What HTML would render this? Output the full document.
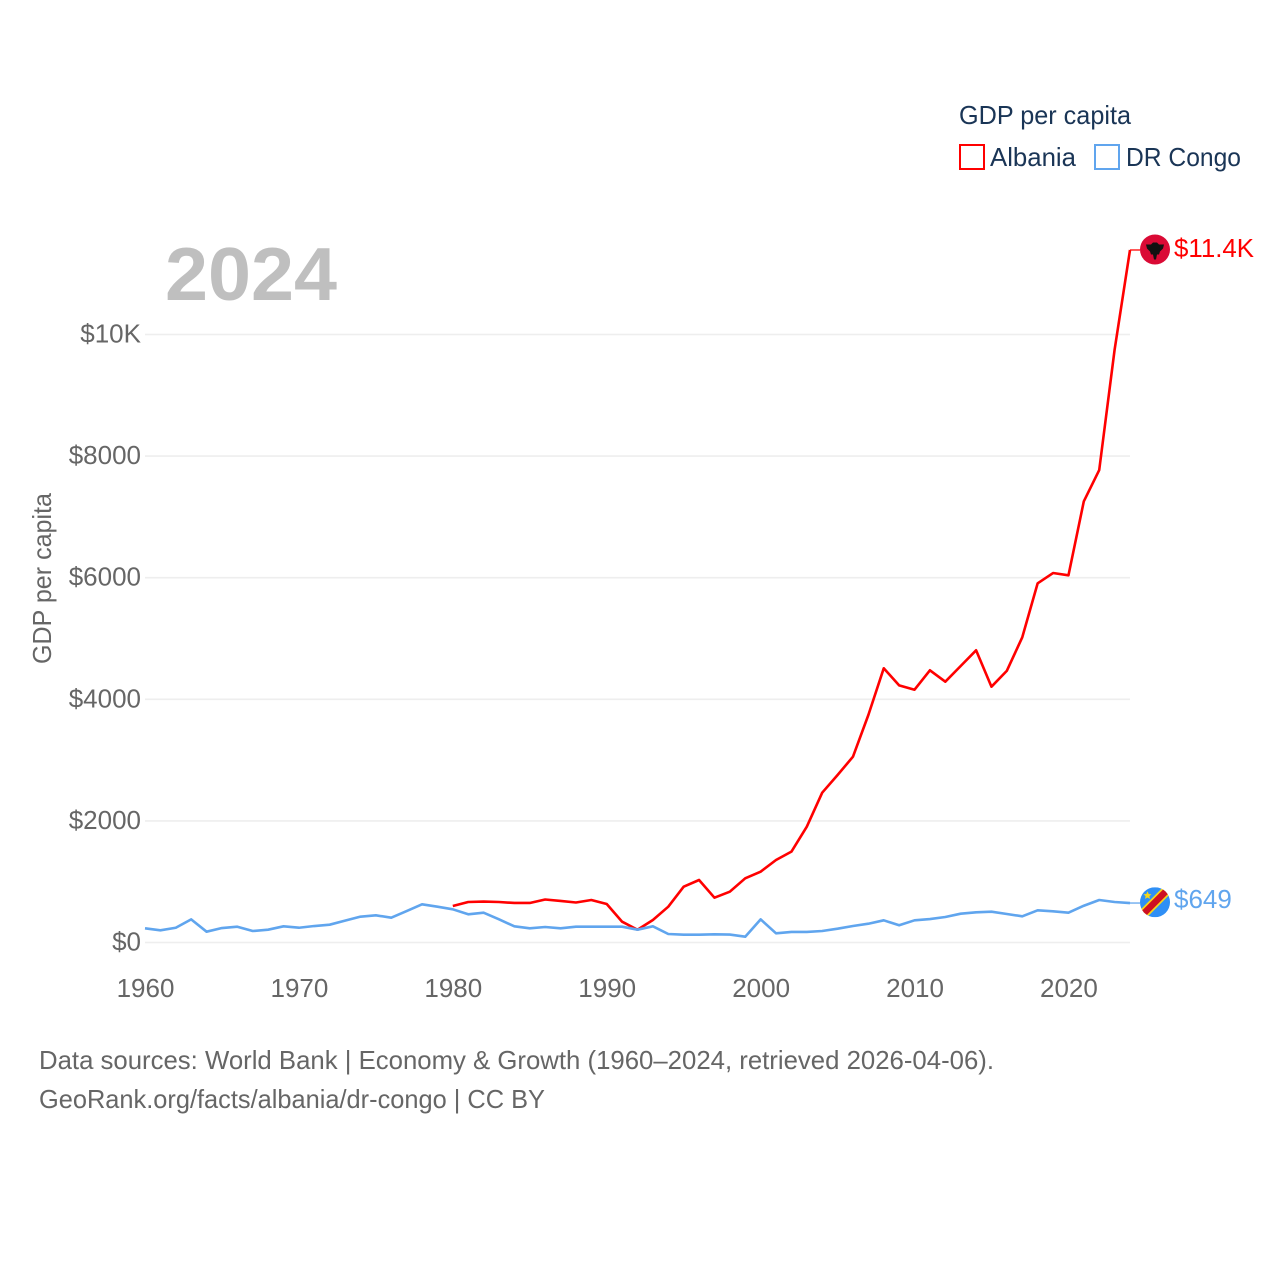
<!DOCTYPE html>
<html lang="en">
<head>
<meta charset="utf-8">
<title>GDP per capita: Albania and DR Congo</title>
<style>
  html, body { margin: 0; padding: 0; background: #ffffff; }
  #chart { display: block; width: 1280px; height: 1280px; }
  text { font-family: "Liberation Sans", sans-serif; }
</style>
</head>
<body>
<svg id="chart" xmlns="http://www.w3.org/2000/svg" width="1280" height="1280" viewBox="0 0 1280 1280">
  <rect x="0" y="0" width="1280" height="1280" fill="#ffffff"/>

  <g id="grid"></g>

  <text x="165" y="300" font-size="75" font-weight="700" fill="#bfbfbf" textLength="172" lengthAdjust="spacingAndGlyphs">2024</text>

  <g id="y-ticks"></g>
  <g id="x-ticks"></g>

  <text transform="translate(51 664) rotate(-90)" font-size="26" fill="#666666" textLength="171" lengthAdjust="spacingAndGlyphs">GDP per capita</text>

  <g id="series"></g>

  <g>
    <text x="959" y="124" font-size="26" fill="#1a3556" textLength="172" lengthAdjust="spacingAndGlyphs">GDP per capita</text>
    <g>
      <rect x="960" y="145" width="24" height="24" fill="#ffffff" stroke="#ff0000" stroke-width="2"/>
      <text x="990" y="166" font-size="26" fill="#1a3556" textLength="86" lengthAdjust="spacingAndGlyphs">Albania</text>
    </g>
    <g>
      <rect x="1095" y="145" width="24" height="24" fill="#ffffff" stroke="#60a5ee" stroke-width="2"/>
      <text x="1126" y="166" font-size="26" fill="#1a3556" textLength="115" lengthAdjust="spacingAndGlyphs">DR Congo</text>
    </g>
  </g>

  <g id="flag-albania">
    <circle cx="0" cy="0" r="15" fill="#da0a35"/>
    <path fill="#111111" d="M-9,-5 L-4,-5 L-2,-7 L2,-7 L4,-5 L9,-5 L8,-1 L5,2 L4,5 L2,5 L1,10 L-1,10 L-2,5 L-4,5 L-5,2 L-8,-1 Z"/>
  </g>

  <g id="flag-congo">
    <clipPath id="congo-clip"><circle cx="0" cy="0" r="15"/></clipPath>
    <g clip-path="url(#congo-clip)">
      <rect x="-15" y="-15" width="30" height="30" fill="#2f8ff5"/>
      <line x1="-17" y1="17" x2="17" y2="-17" stroke="#f7d618" stroke-width="10"/>
      <line x1="-17" y1="17" x2="17" y2="-17" stroke="#ce1021" stroke-width="6.5"/>
      <polygon fill="#f7d618" points="-7.5,-11 -6.3,-8.2 -3.5,-8 -5.6,-6.1 -5,-3.4 -7.5,-4.8 -10,-3.4 -9.4,-6.1 -11.5,-8 -8.7,-8.2"/>
    </g>
  </g>

  <g id="end-labels"></g>

  <g>
    <text x="39" y="1069" font-size="26" fill="#666666" textLength="955" lengthAdjust="spacingAndGlyphs">Data sources: World Bank | Economy &amp; Growth (1960–2024, retrieved 2026-04-06).</text>
    <text x="39" y="1108" font-size="26" fill="#666666" textLength="506" lengthAdjust="spacingAndGlyphs">GeoRank.org/facts/albania/dr-congo | CC BY</text>
  </g>
</svg>

<script>
const albaniaFirstYear = 1980;
const albaniaValues = [600, 666, 674, 666, 650, 650, 707, 683, 658, 699, 633, 342, 210, 370, 589, 918, 1028, 737, 836, 1056, 1165, 1357, 1494, 1905, 2464, 2755, 3056, 3742, 4510, 4230, 4158, 4477, 4290, 4548, 4806, 4207, 4470, 5020, 5908, 6077, 6039, 7257, 7771, 9750, 11390];

const congoFirstYear = 1960;
const congoValues = [233, 200, 243, 381, 178, 238, 260, 189, 211, 266, 243, 271, 293, 359, 425, 447, 408, 518, 628, 589, 546, 464, 490, 381, 266, 233, 255, 233, 260, 260, 260, 260, 211, 266, 140, 128, 128, 135, 130, 95, 381, 151, 173, 173, 189, 227, 271, 309, 365, 283, 365, 386, 419, 474, 497, 507, 469, 431, 530, 513, 490, 605, 699, 666, 649];

const yTickValues = [0, 2000, 4000, 6000, 8000, 10000];
const yTickLabels = ["$0", "$2000", "$4000", "$6000", "$8000", "$10K"];
const xTickYears = [1960, 1970, 1980, 1990, 2000, 2010, 2020];
const albaniaEndLabel = "$11.4K";
const congoEndLabel = "$649";

const NS = "http://www.w3.org/2000/svg";
const plotLeft = 145, plotRight = 1130, plotBottom = 942.5;
const yearMin = 1960, yearMax = 2024;
const pxPerDollar = 0.0608;

function xScale(year) {
  return plotLeft + (year - yearMin) * (plotRight - plotLeft) / (yearMax - yearMin);
}
function yScale(value) {
  return plotBottom - value * pxPerDollar;
}
function make(tag, attrs, parent) {
  const el = document.createElementNS(NS, tag);
  for (const k in attrs) el.setAttribute(k, attrs[k]);
  parent.appendChild(el);
  return el;
}

const grid = document.getElementById("grid");
const yTicks = document.getElementById("y-ticks");
const xTicks = document.getElementById("x-ticks");
const series = document.getElementById("series");
const endLabels = document.getElementById("end-labels");

yTickValues.forEach(function (v, i) {
  const line = make("line", { x1: plotLeft, x2: plotRight, y1: yScale(v), y2: yScale(v), stroke: "#eeeeee", "stroke-width": 1.6 }, grid);
  
  
  const label = make("text", { x: 141, y: yScale(v) + 8, "text-anchor": "end", "font-size": 26, fill: "#666666" }, yTicks);
  
  
  label.textContent = yTickLabels[i];
});

xTickYears.forEach(function (yr) {
  const label = make("text", { x: xScale(yr) + 0.5, y: 997, "text-anchor": "middle", "font-size": 26, fill: "#666666" }, xTicks);
  
  
  label.textContent = String(yr);
});

function linePath(firstYear, values) {
  return values.map(function (v, i) {
    return (i ? "L" : "M") + xScale(firstYear + i).toFixed(2) + "," + yScale(v).toFixed(2);
  }).join(" ");
}

const albaniaLine = make("path", { d: linePath(albaniaFirstYear, albaniaValues), fill: "none", stroke: "#ff0000", "stroke-width": 2.6, "stroke-linejoin": "round" }, series);



const congoLine = make("path", { d: linePath(congoFirstYear, congoValues), fill: "none", stroke: "#60a5ee", "stroke-width": 2.6, "stroke-linejoin": "round" }, series);



const albaniaEndY = yScale(albaniaValues[albaniaValues.length - 1]);
const congoEndY = yScale(congoValues[congoValues.length - 1]);

const albaniaStub = make("line", { x1: plotRight, x2: 1140, y1: albaniaEndY, y2: albaniaEndY, stroke: "#ff0000", "stroke-width": 1.6, opacity: 0.8 }, series);



const congoStub = make("line", { x1: plotRight, x2: 1140, y1: congoEndY, y2: congoEndY, stroke: "#60a5ee", "stroke-width": 1.6, opacity: 0.8 }, series);



document.getElementById("flag-albania").setAttribute("transform", "translate(1155 " + (albaniaEndY - 0.5) + ")");
document.getElementById("flag-congo").setAttribute("transform", "translate(1155 " + (congoEndY - 0.8) + ")");

const albaniaLabel = make("text", { x: 1174, y: albaniaEndY + 7, "font-size": 26, fill: "#ff0000", textLength: 80, lengthAdjust: "spacingAndGlyphs" }, endLabels);


albaniaLabel.textContent = albaniaEndLabel;

const congoLabel = make("text", { x: 1174, y: congoEndY + 5, "font-size": 26, fill: "#60a5ee" }, endLabels);


congoLabel.textContent = congoEndLabel;
</script>
</body>
</html>
